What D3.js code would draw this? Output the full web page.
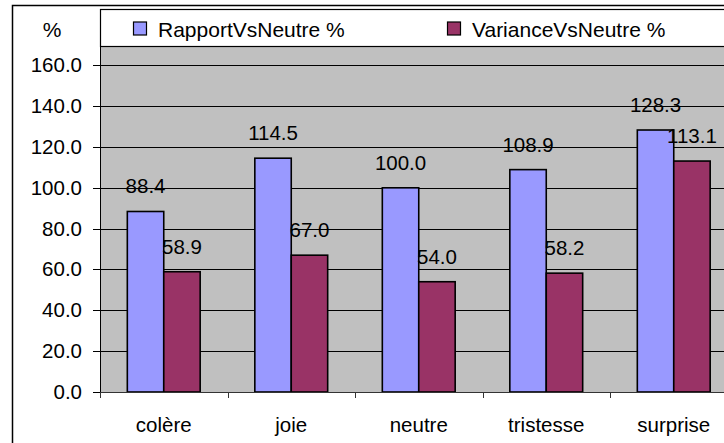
<!DOCTYPE html>
<html>
<head>
<meta charset="utf-8">
<script src="https://cdn.jsdelivr.net/npm/d3@7"></script>
<style>
  body { margin: 0; background: #fff; }
  text { font-family: "Liberation Sans", Arial, sans-serif; fill: #000; }
</style>
</head>
<body>
<div id="chart"></div>
<script>
var categories = ['colère', 'joie', 'neutre', 'tristesse', 'surprise'];
var seriesNames = ['RapportVsNeutre %', 'VarianceVsNeutre %'];
var rapportValues = [88.4, 114.5, 100.0, 108.9, 128.3];
var varianceValues = [58.9, 67.0, 54.0, 58.2, 113.1];
var yTicks = [0, 20, 40, 60, 80, 100, 120, 140, 160];
var colors = ['#9999FF', '#993366'];

var width = 724;
var height = 443;
var fontSize = 20.5;

var svg = d3.select("#chart").append("svg")
  .attr("width", width)
  .attr("height", height);

// category axis runs past the right edge of the picture, like the original
var x = d3.scaleBand()
  .domain(categories)
  .range([100, 737.5])
  .paddingInner(1.5 / 3.5)
  .paddingOuter(0.75 / 3.5);

var x1 = d3.scaleBand()
  .domain([0, 1])
  .range([0, x.bandwidth()]);

var y = d3.scaleLinear()
  .domain([0, 180])
  .range([392, 392 - 180 * 2.042]);

function crisp(v) { return Math.round(v) + 0.5; }

// plot area
svg.append("rect")
  .attr("x", 100)
  .attr("y", y(180))
  .attr("width", 737.5 - 100)
  .attr("height", y(0) - y(180))
  .attr("fill", "#C0C0C0");

// gridlines
svg.append("g")
  .selectAll("line")
  .data(yTicks.filter(function(d) { return d > 0; }))
  .enter().append("line")
    .attr("x1", 100)
    .attr("x2", 737.5)
    .attr("y1", function(d) { return crisp(y(d)); })
    .attr("y2", function(d) { return crisp(y(d)); })
    .attr("stroke", "#000")
    .attr("stroke-width", 1);

// bars
var rows = categories.map(function(c, i) {
  return { cat: c, values: [rapportValues[i], varianceValues[i]] };
});

var groups = svg.append("g")
  .selectAll("g")
  .data(rows)
  .enter().append("g")
    .attr("transform", function(d) { return "translate(" + x(d.cat) + ",0)"; });

groups.selectAll("rect")
  .data(function(d) { return d.values; })
  .enter().append("rect")
    .attr("x", function(d, i) { return x1(i); })
    .attr("y", function(d) { return y(d); })
    .attr("width", x1.bandwidth())
    .attr("height", function(d) { return y(0) - y(d); })
    .attr("fill", function(d, i) { return colors[i]; })
    .attr("stroke", "#000")
    .attr("stroke-width", 1.6);

groups.selectAll("text")
  .data(function(d) { return d.values; })
  .enter().append("text")
    .attr("x", function(d, i) { return x1(i) + x1.bandwidth() / 2; })
    .attr("y", function(d) { return y(d) - 18; })
    .attr("text-anchor", "middle")
    .style("font-size", fontSize + "px")
    .text(function(d) { return d.toFixed(1); });

// y axis
var yAxis = svg.append("g")
  .attr("transform", "translate(100,0)")
  .call(d3.axisLeft(y).tickValues(yTicks).tickSize(7).tickPadding(11)
    .tickFormat(function(d) { return d.toFixed(1); }));
yAxis.select(".domain").attr("d", "M0.5," + y(180) + "V" + (y(0) + 0.5));
yAxis.selectAll(".tick").attr("transform", function(d) { return "translate(0," + crisp(y(d)) + ")"; });
yAxis.selectAll("line").attr("stroke", "#000");
yAxis.selectAll("text")
  .style("font-size", fontSize + "px")
  .style("font-family", '"Liberation Sans", Arial, sans-serif');

// x axis
var xAxis = svg.append("g")
  .attr("transform", "translate(0," + y(0) + ")");
xAxis.append("line")
  .attr("x1", 100).attr("x2", 737.5)
  .attr("y1", 0.5).attr("y2", 0.5)
  .attr("stroke", "#333");
xAxis.selectAll(".tick")
  .data(categories)
  .enter().append("line")
    .attr("x1", function(d) { return crisp(x(d) - x.step() * x.paddingInner() / 2); })
    .attr("x2", function(d) { return crisp(x(d) - x.step() * x.paddingInner() / 2); })
    .attr("y1", 0)
    .attr("y2", 6)
    .attr("stroke", "#333");
xAxis.selectAll("text")
  .data(categories)
  .enter().append("text")
    .attr("x", function(d) { return x(d) + x.bandwidth() / 2; })
    .attr("y", 40)
    .attr("text-anchor", "middle")
    .style("font-size", fontSize + "px")
    .text(function(d) { return d; });

// legend box across the top
svg.append("rect")
  .attr("x", 100.5)
  .attr("y", 9.5)
  .attr("width", 700)
  .attr("height", 37)
  .attr("fill", "#fff")
  .attr("stroke", "#000")
  .attr("stroke-width", 1.2);

var legendX = [133, 447];
var legend = svg.append("g")
  .selectAll("g")
  .data(seriesNames)
  .enter().append("g")
    .attr("transform", function(d, i) { return "translate(" + legendX[i] + ",0)"; });
legend.append("rect")
  .attr("x", 0.5).attr("y", 22)
  .attr("width", 13).attr("height", 13)
  .attr("fill", function(d, i) { return colors[i]; })
  .attr("stroke", "#000")
  .attr("stroke-width", 1.2);
legend.append("text")
  .attr("x", 25)
  .attr("y", 37)
  .style("font-size", "21px")
  .text(function(d) { return d; });

// axis title
svg.append("text")
  .attr("x", 52)
  .attr("y", 37)
  .attr("text-anchor", "middle")
  .style("font-size", "21px")
  .text("%");

// chart border
svg.append("rect")
  .attr("x", 12.5)
  .attr("y", 5.5)
  .attr("width", 760)
  .attr("height", 460)
  .attr("fill", "none")
  .attr("stroke", "#000")
  .attr("stroke-width", 1.5);
</script>
</body>
</html>
